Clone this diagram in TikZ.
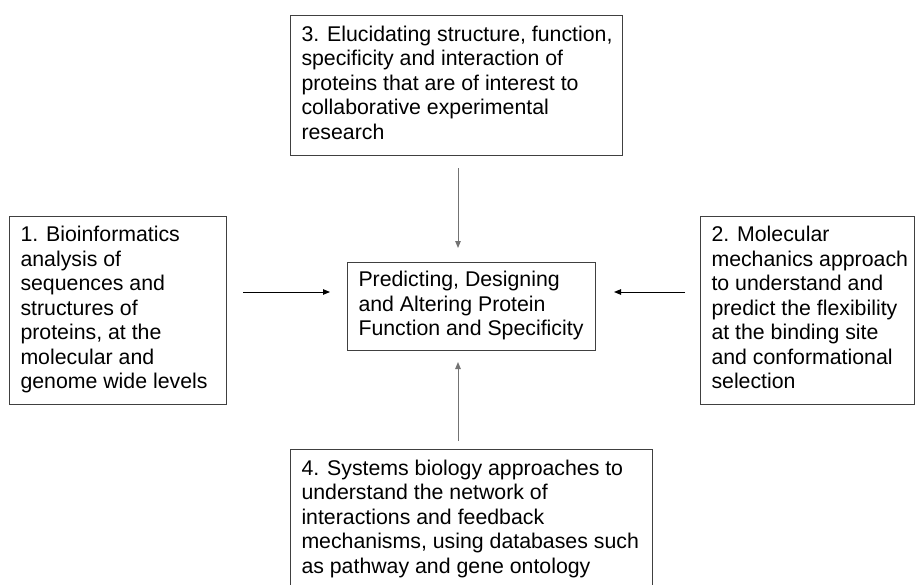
\documentclass[tikz,border=0pt]{standalone}
\usepackage{fontspec}
\setmainfont{Liberation Sans}
\usetikzlibrary{arrows.meta}
\newcommand\boxfont{\fontsize{21.3pt}{24.5pt}\selectfont}
\newcommand\boxtext[2]{\makebox[#1][l]{\begin{tabular}{@{}l@{}}#2\end{tabular}}}
\tikzset{
  box/.style={draw=black!75, line width=1pt, inner xsep=11pt, inner ysep=0pt,
    anchor=north west, font=\boxfont, text=black},
  varrow/.style={draw=black!55, line width=1pt, -{Triangle[length=7pt,width=5.5pt]}},
  harrow/.style={draw=black, line width=0.9pt, -{Triangle[length=7pt,width=5.5pt]}}
}
\begin{document}
\begin{tikzpicture}[x=1pt,y=-1pt]
\useasboundingbox (0,0) rectangle (915,584);
\clip (0,0) rectangle (915,584);
\node[box, minimum width=332pt, minimum height=140pt] (top) at (290,15)
  {\boxtext{310pt}{3. Elucidating structure, function,\\specificity and interaction of\\proteins that are of interest to\\collaborative experimental\\research}};
\node[box, minimum width=217pt, minimum height=188pt] (left) at (9,216)
  {\boxtext{195pt}{1. Bioinformatics\\analysis of\\sequences and\\structures of\\proteins, at the\\molecular and\\genome wide levels}};
\node[box, minimum width=214pt, minimum height=188pt] (right) at (700,216)
  {\boxtext{192pt}{2. Molecular\\mechanics approach\\to understand and\\predict the flexibility\\at the binding site\\and conformational\\selection}};
\node[box, minimum width=248pt, minimum height=88pt] (mid) at (347,262)
  {\boxtext{226pt}{Predicting, Designing\\and Altering Protein\\Function and Specificity}};
\node[box, minimum width=362pt, minimum height=140pt] (bot) at (290,449)
  {\boxtext{340pt}{4. Systems biology approaches to\\understand the network of\\interactions and feedback\\mechanisms, using databases such\\as pathway and gene ontology}};
\coordinate (ax) at (458,0);
\coordinate (ay) at (0,292);
\draw[varrow, shorten <=12pt, shorten >=14pt] (top.south -| ax) -- (mid.north -| ax);
\draw[varrow, shorten <=8pt, shorten >=11pt] (bot.north -| ax) -- (mid.south -| ax);
\draw[harrow, shorten <=16pt, shorten >=17pt] (left.east |- ay) -- (mid.west |- ay);
\draw[harrow, shorten <=15pt, shorten >=18pt] (right.west |- ay) -- (mid.east |- ay);
\end{tikzpicture}
\end{document}
